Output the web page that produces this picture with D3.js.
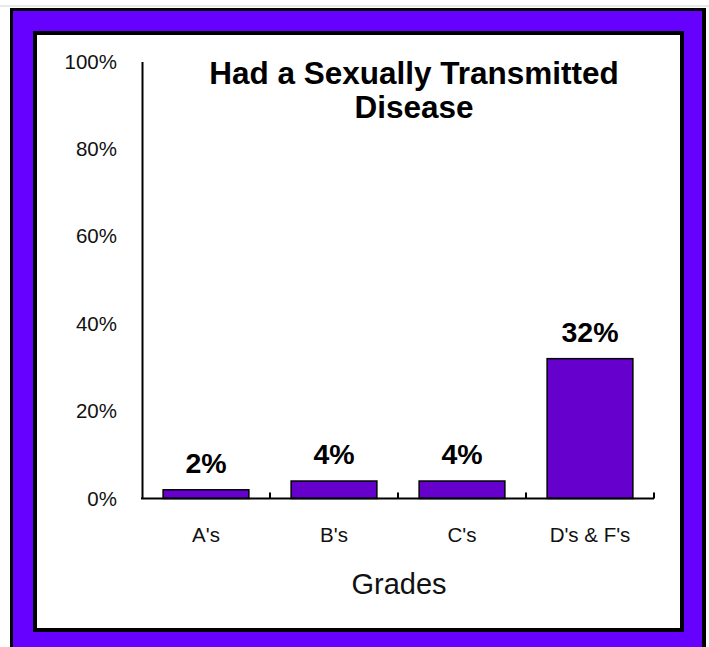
<!DOCTYPE html>
<html>
<head>
<meta charset="utf-8">
<script src="https://cdn.jsdelivr.net/npm/d3@7/dist/d3.min.js"></script>
<style>
  html, body { margin: 0; padding: 0; background: #fff; }
  svg { display: block; font-family: Arial, "Liberation Sans", sans-serif; }
</style>
</head>
<body>
<svg id="chart" width="709" height="647"></svg>
<script>
// Share of students who had an STD, by grades earned
const categories = ["A's", "B's", "C's", "D's & F's"];
const values = [2, 4, 4, 32];
const yTicks = [0, 20, 40, 60, 80, 100];
const titleLines = ["Had a Sexually Transmitted", "Disease"];
const xTitle = "Grades";

const svg = d3.select("#chart");

// Decorative frame: purple band between two black rules
svg.append("rect").attr("x", 0).attr("y", 5.5).attr("width", 709).attr("height", 1).attr("fill", "#d4d4d4");
svg.append("rect").attr("x", 10).attr("y", 8).attr("width", 696).attr("height", 700).attr("fill", "#000");
svg.append("rect").attr("x", 13).attr("y", 11).attr("width", 689).attr("height", 700).attr("fill", "#6600FF");
svg.append("rect").attr("x", 33).attr("y", 31).attr("width", 651).attr("height", 601).attr("fill", "#000");
svg.append("rect").attr("x", 37).attr("y", 35).attr("width", 643).attr("height", 593).attr("fill", "#fff");

const plot = { left: 142, right: 654, top: 61.5, bottom: 498.5 };

const x = d3.scaleBand()
  .domain(categories)
  .range([plot.left, plot.right])
  .paddingInner(0.33)
  .paddingOuter(0.165);

const y = d3.scaleLinear()
  .domain([0, 100])
  .range([plot.bottom, plot.top]);

// Bars
svg.append("g").selectAll("rect")
  .data(values)
  .join("rect")
  .attr("x", (d, i) => x(categories[i]))
  .attr("y", d => y(d))
  .attr("width", x.bandwidth())
  .attr("height", d => y(0) - y(d))
  .attr("fill", "#6600CC")
  .attr("stroke", "#000")
  .attr("stroke-width", 1.5);

// Value labels
svg.append("g").selectAll("text")
  .data(values)
  .join("text")
  .attr("x", (d, i) => x(categories[i]) + x.bandwidth() / 2)
  .attr("y", d => y(d) - 17)
  .attr("text-anchor", "middle")
  .attr("font-size", 28.5)
  .attr("font-weight", "bold")
  .attr("fill", "#000")
  .text(d => d + "%");

// Y axis
const yAxis = svg.append("g")
  .attr("transform", `translate(${plot.left},0)`)
  .call(d3.axisLeft(y).tickValues(yTicks).tickFormat(d => d + "%").tickSizeInner(0).tickSizeOuter(0).tickPadding(25));
yAxis.select(".domain").attr("stroke", "#000").attr("stroke-width", 2);
yAxis.selectAll("text").attr("font-size", 20.5).attr("fill", "#111").attr("font-family", null);

// X axis
const xAxis = svg.append("g")
  .attr("transform", `translate(0,${plot.bottom})`)
  .call(d3.axisBottom(x).tickSizeInner(0).tickSizeOuter(0).tickPadding(0));
xAxis.select(".domain").attr("stroke", "#000").attr("stroke-width", 2)
  .attr("d", `M${plot.left - 1},0H${plot.right}`);
xAxis.selectAll("text")
  .attr("y", 43).attr("dy", null)
  .attr("font-size", 20.5).attr("fill", "#111").attr("font-family", null);

// Category boundary ticks pointing up into the plot
const step = x.step();
const boundaries = categories.map(c => x(c) - step * x.paddingInner() / 2 + step);
xAxis.append("g").selectAll("line")
  .data(boundaries)
  .join("line")
  .attr("x1", d => d).attr("x2", d => d)
  .attr("y1", 0).attr("y2", -6)
  .attr("stroke", "#000").attr("stroke-width", 2);

// Chart title
svg.append("g").selectAll("text")
  .data(titleLines)
  .join("text")
  .attr("x", 414)
  .attr("y", (d, i) => 84.3 + i * 34)
  .attr("text-anchor", "middle")
  .attr("font-size", 31.5)
  .attr("font-weight", "bold")
  .attr("fill", "#000")
  .text(d => d);

// Axis title
svg.append("text")
  .attr("x", 399)
  .attr("y", 594)
  .attr("text-anchor", "middle")
  .attr("font-size", 29)
  .attr("fill", "#111")
  .text(xTitle);
</script>
</body>
</html>
